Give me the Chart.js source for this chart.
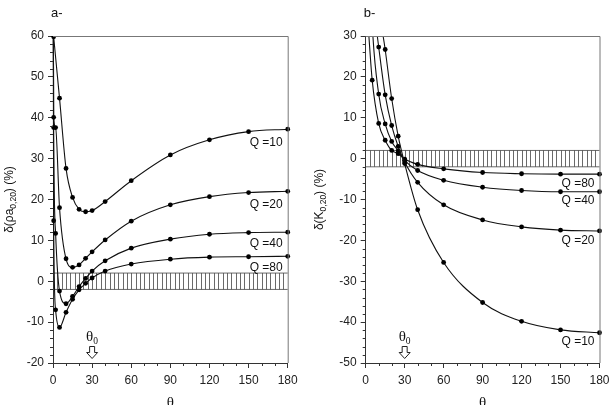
<!DOCTYPE html>
<html>
<head>
<meta charset="utf-8">
<script src="https://cdn.jsdelivr.net/npm/chart.js@4.4.0/dist/chart.umd.min.js"></script>
<style>
  html, body { margin: 0; padding: 0; background: #fff; overflow: hidden; }
  #wrap { position: relative; width: 609px; height: 405px; overflow: hidden; }
  .panel { position: absolute; top: 0; height: 405px; }
  #left { left: 0; width: 304px; }
  #right { left: 304px; width: 320px; }
</style>
</head>
<body>
<div id="wrap">
  <div class="panel" id="left"><canvas id="chartA"></canvas></div>
  <div class="panel" id="right"><canvas id="chartB"></canvas></div>
</div>
<script>
'use strict'

// curve labels, same order as the series below
const curveLabels = ['Q =10', 'Q =20', 'Q =40', 'Q =80'];
const xTicks = [0, 30, 60, 90, 120, 150, 180];

// panel a- : delta(rho a 0,20) (%) vs theta
const thetaA10 = [0.5, 5, 10, 15, 20, 25, 30, 40, 60, 90, 120, 150, 180];
const rhoQ10 = [59.8, 44.8, 27.6, 20.5, 17.6, 17.0, 17.3, 19.5, 24.6, 30.9, 34.6, 36.6, 37.2];
const thetaA20 = [0, 0.5, 2, 5, 10, 15, 20, 25, 30, 40, 60, 90, 120, 150, 180];
const rhoQ20 = [100, 40.1, 37.6, 18.0, 5.5, 3.4, 4.0, 5.6, 7.2, 10.1, 14.7, 18.7, 20.7, 21.7, 22.0];
const thetaA40 = [0, 0.5, 2, 5, 10, 15, 20, 25, 30, 40, 60, 90, 120, 150, 180];
const rhoQ40 = [100, 37.6, 11.7, -2.4, -5.5, -3.7, -1.3, 0.7, 2.5, 5.0, 8.1, 10.3, 11.5, 11.9, 12.0];
const thetaA80 = [0, 0.5, 2, 5, 10, 15, 20, 25, 30, 40, 60, 90, 120, 150, 180];
const rhoQ80 = [100, 14.8, -7.0, -11.3, -7.6, -4.4, -2.1, -0.5, 0.8, 2.5, 4.2, 5.4, 5.9, 6.0, 6.1];

// panel b- : delta(K 0,20) (%) vs theta
const thetaB10 = [5, 10, 15, 20, 25, 30, 40, 60, 90, 120, 150, 180];
const kQ10 = [60, 38, 26.7, 14.7, 5.5, -1.2, -12.5, -25.4, -35.2, -39.8, -41.9, -42.6];
const thetaB20 = [5, 10, 15, 20, 25, 30, 40, 60, 90, 120, 150, 180];
const kQ20 = [40, 27.3, 15.6, 8.1, 3.0, -0.8, -5.8, -11.3, -15.0, -16.7, -17.5, -17.7];
const thetaB40 = [2, 5, 10, 15, 20, 25, 30, 40, 60, 90, 120, 150, 180];
const kQ40 = [60, 33, 15.8, 8.5, 4.2, 1.9, -0.4, -2.9, -5.3, -7.0, -7.8, -8.1, -8.1];
const thetaB80 = [2, 5, 10, 15, 20, 25, 30, 40, 60, 90, 120, 150, 180];
const kQ80 = [32, 19.2, 8.6, 4.5, 2.0, 1.2, -0.1, -1.4, -2.5, -3.4, -3.7, -3.8, -3.8];

// where the Q labels sit (in axis units), same order as curveLabels
const labelYA = [33.9, 18.7, 9.3, 3.4];
const labelYB = [-44.8, -20.1, -10.4, -6.2];

const SANS = '"Liberation Sans", Arial, sans-serif';
const SERIF = '"Liberation Serif", "Times New Roman", serif';

function pts(xs, ys) {
  return xs.map((x, i) => ({x: x, y: ys[i]}));
}

function curve(xs, ys) {
  return {
    data: pts(xs, ys),
    borderColor: '#111',
    borderWidth: 1.1,
    pointRadius: 2.4,
    pointBackgroundColor: '#000',
    pointBorderWidth: 0,
    cubicInterpolationMode: 'monotone',
    clip: {left: 6, right: 6, top: 0, bottom: 6}
  };
}

// text with a subscript part, optionally rotated
function drawParts(ctx, parts, x, y, rot, size, subSize, family, align) {
  ctx.save();
  ctx.translate(x, y);
  if (rot) ctx.rotate(rot);
  let w = 0;
  parts.forEach(p => {
    ctx.font = (p.sub ? subSize : size) + 'px ' + family;
    w += ctx.measureText(p.t).width;
  });
  let cx = align === 'left' ? 0 : -w / 2;
  ctx.textBaseline = 'middle';
  ctx.textAlign = 'left';
  ctx.fillStyle = '#111';
  parts.forEach(p => {
    ctx.font = (p.sub ? subSize : size) + 'px ' + family;
    ctx.fillText(p.t, cx, p.sub ? size * 0.3 : 0);
    cx += ctx.measureText(p.t).width;
  });
  ctx.restore();
}

function makeDecor(cfg) {
  return {
    id: 'decor',
    beforeDatasetsDraw(chart) {
      const {ctx, chartArea: a, scales: {x, y}} = chart;
      const yTop = y.getPixelForValue(2);
      const yBot = y.getPixelForValue(-2);
      ctx.save();
      ctx.strokeStyle = '#444';
      ctx.lineWidth = 0.8;
      ctx.beginPath();
      ctx.moveTo(a.left, yTop); ctx.lineTo(a.right, yTop);
      ctx.moveTo(a.left, yBot); ctx.lineTo(a.right, yBot);
      for (let t = 10 / 3; t < 180; t += 10 / 3) {
        const px = Math.round(x.getPixelForValue(t)) + 0.5;
        ctx.moveTo(px, yTop); ctx.lineTo(px, yBot);
      }
      ctx.stroke();
      ctx.restore();
    },
    afterDraw(chart) {
      const {ctx, chartArea: a, scales: {x, y}} = chart;
      ctx.save();
      // frame top / right
      ctx.strokeStyle = '#777';
      ctx.lineWidth = 1;
      ctx.beginPath();
      ctx.moveTo(a.left, a.top + 0.5); ctx.lineTo(a.right + 0.5, a.top + 0.5);
      ctx.lineTo(a.right + 0.5, a.bottom);
      ctx.stroke();
      // minor ticks
      ctx.strokeStyle = '#333';
      ctx.beginPath();
      for (let v = y.min; v <= y.max; v += 2) {
        if (v % 10 === 0) continue;
        const py = Math.round(y.getPixelForValue(v)) + 0.5;
        ctx.moveTo(a.left - 3, py); ctx.lineTo(a.left, py);
      }
      for (let t = 0; t <= 180; t += 10) {
        if (t % 30 === 0) continue;
        const px = Math.round(x.getPixelForValue(t)) + 0.5;
        ctx.moveTo(px, a.bottom); ctx.lineTo(px, a.bottom + 3);
      }
      ctx.stroke();

      // Q labels
      ctx.font = '12px ' + SANS;
      ctx.fillStyle = '#111';
      ctx.textAlign = 'right';
      ctx.textBaseline = 'middle';
      curveLabels.forEach((s, i) => {
        ctx.fillText(s, a.right - 5, y.getPixelForValue(cfg.labelY[i]));
      });

      // panel letter
      ctx.textAlign = 'left';
      ctx.textBaseline = 'alphabetic';
      ctx.font = '13px ' + SANS;
      ctx.fillText(cfg.letter, a.left - 2, 17);

      // y title
      drawParts(ctx, cfg.yTitle, cfg.yTitleX, (a.top + a.bottom) / 2, -Math.PI / 2, 12, 8.5, SANS);

      // x title
      ctx.font = '15px ' + SERIF;
      ctx.textAlign = 'center';
      ctx.textBaseline = 'top';
      ctx.fillText('\u03b8', (a.left + a.right) / 2, 396);

      // theta0 marker with arrow
      const ax = x.getPixelForValue(30);
      drawParts(ctx, [{t: '\u03b8'}, {t: '0', sub: true}], ax - 6, 337, 0, 15, 9.5, SERIF, 'left');
      ctx.strokeStyle = '#222';
      ctx.lineWidth = 1;
      ctx.beginPath();
      ctx.moveTo(ax - 2.5, 346.5);
      ctx.lineTo(ax + 2.5, 346.5);
      ctx.lineTo(ax + 2.5, 352.5);
      ctx.lineTo(ax + 5.5, 352.5);
      ctx.lineTo(ax, 358.5);
      ctx.lineTo(ax - 5.5, 352.5);
      ctx.lineTo(ax - 2.5, 352.5);
      ctx.closePath();
      ctx.stroke();
      ctx.restore();
    }
  };
}

function makeOptions(yMin, yMax, yWidth, padRight) {
  return {
    responsive: true,
    maintainAspectRatio: false,
    animation: false,
    events: [],
    layout: {padding: {left: 0, right: padRight, top: 36, bottom: 0}},
    plugins: {legend: {display: false}, tooltip: {enabled: false}},
    scales: {
      x: {
        type: 'linear',
        min: 0,
        max: 180,
        afterBuildTicks: s => { s.ticks = xTicks.map(v => ({value: v})); },
        afterFit: s => { s.height = 42; },
        grid: {drawOnChartArea: false, drawTicks: true, tickLength: 5, color: '#333'},
        border: {color: '#333', width: 1},
        ticks: {color: '#222', font: {family: SANS, size: 12}, padding: 5, maxRotation: 0}
      },
      y: {
        min: yMin,
        max: yMax,
        afterFit: s => { s.width = yWidth; },
        grid: {drawOnChartArea: false, drawTicks: true, tickLength: 5, color: '#333'},
        border: {color: '#333', width: 1},
        ticks: {stepSize: 10, color: '#222', font: {family: SANS, size: 12}, padding: 4}
      }
    }
  };
}

new Chart(document.getElementById('chartA'), {
  type: 'line',
  data: {
    datasets: [
      curve(thetaA10, rhoQ10),
      curve(thetaA20, rhoQ20),
      curve(thetaA40, rhoQ40),
      curve(thetaA80, rhoQ80)
    ]
  },
  options: makeOptions(-20, 60, 53, 16.3),
  plugins: [makeDecor({
    letter: 'a-',
    labelY: labelYA,
    yTitleX: 10,
    yTitle: [{t: '\u03b4(\u03c1a'}, {t: '0,20', sub: true}, {t: ') (%)'}]
  })]
});

new Chart(document.getElementById('chartB'), {
  type: 'line',
  data: {
    datasets: [
      curve(thetaB10, kQ10),
      curve(thetaB20, kQ20),
      curve(thetaB40, kQ40),
      curve(thetaB80, kQ80)
    ]
  },
  options: makeOptions(-50, 30, 61.7, 24.5),
  plugins: [makeDecor({
    letter: 'b-',
    labelY: labelYB,
    yTitleX: 16,
    yTitle: [{t: '\u03b4(K'}, {t: '0,20', sub: true}, {t: ') (%)'}]
  })]
});
</script>
</body>
</html>
